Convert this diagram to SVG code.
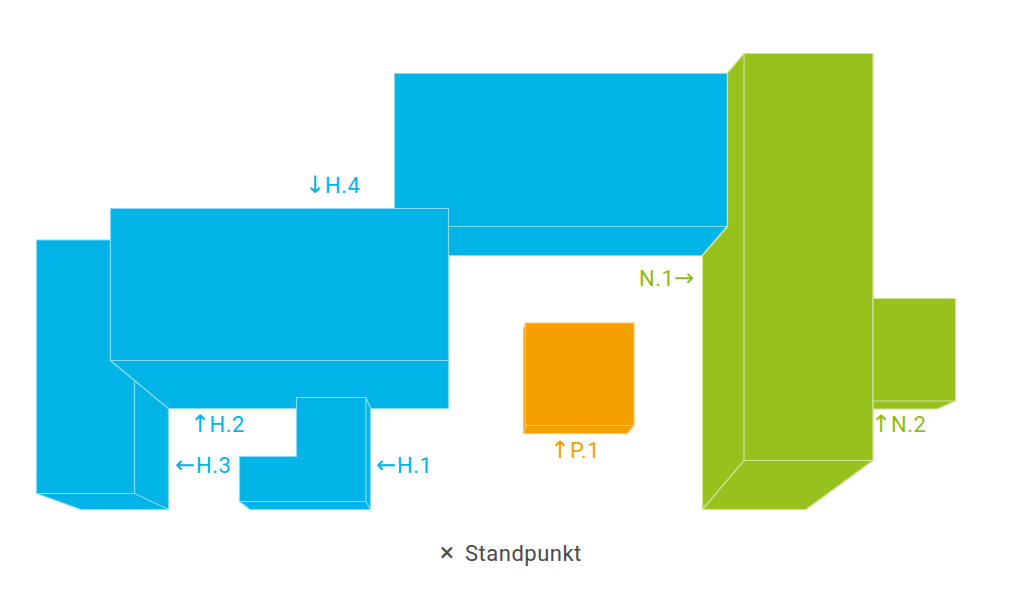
<svg xmlns="http://www.w3.org/2000/svg" width="1020" height="591" viewBox="0 0 1020 591">
<style>
.b{fill:#00b4e8;stroke:#85daf4}
.g{fill:#97c11d;stroke:#d0e496}
.o{fill:#f59f00;stroke:#fbc266}
.s{stroke-width:1.2;stroke-linejoin:round}
.l{stroke-width:1.2;fill:none}
text{font-family:"Roboto","Liberation Sans",sans-serif;font-size:22px;letter-spacing:.5px}
.ar{font-family:"DejaVu Sans",sans-serif;font-size:24px;letter-spacing:0}
.tb{fill:#00b4e8}.tg{fill:#8fbc12}.to{fill:#f59f00}
</style>
<rect width="1020" height="591" fill="#fff"/>
<g id="H3">
<path class="b s" d="M36.500 240H110.500V360.500L168.500 408.500V509.500H81L36.500 493.500Z"/>
<path class="b l" d="M134.500 381V493.500M36.500 493.500H134.500L168.500 509.500"/>
</g>
<g id="H5">
<path class="b s" d="M394.500 73.500H727.500V226L702 255.500H448.500V226H394.500Z"/>
<path class="b l" d="M448.500 226.500H727.500"/>
</g>
<g id="H4">
<path class="b s" d="M110.500 208.500H448.500V408.500H168.500L110.500 360.500Z"/>
<path class="b l" d="M110.500 360.500H448.500"/>
</g>
<g id="H1">
<path class="b s" d="M296.500 397.500H366L370.500 408V509.500H250L239.500 501.500V456.500H296.500Z"/>
<path class="b l" d="M239.500 501.500H366L370.500 509.500M366 397.500V501.500"/>
</g>
<g id="P1">
<path class="o s" d="M525.500 323H634V425.500L627 433.500H523.500V329Z"/>
<path class="o l" d="M525.500 323V425.500H634M525.500 425.500L523.500 433.500"/>
</g>
<g id="N1">
<path class="g s" d="M727.500 73L744 53.500H873V460.500L806 509.500H702.500V255.500L727.500 226.500Z"/>
<path class="g l" d="M744 53.500V460.500H873M744 460.500L702.500 509.500"/>
</g>
<g id="N2">
<path class="g s" d="M873 298.500H955.500V401L937 409H873Z"/>
<path class="g l" d="M873 401H955.500"/>
</g>
<g id="labels">
<text y="193" class="tb"><tspan class="ar" x="305">↓</tspan><tspan x="325">H.4</tspan></text>
<text y="432" class="tb"><tspan class="ar" x="190">↑</tspan><tspan x="209.500">H.2</tspan></text>
<text y="473" class="tb"><tspan class="ar" x="175">←</tspan><tspan x="196">H.3</tspan></text>
<text y="473" class="tb"><tspan class="ar" x="376">←</tspan><tspan x="397">H.1</tspan></text>
<text y="458" class="to"><tspan class="ar" x="550">↑</tspan><tspan x="570">P.1</tspan></text>
<text y="286" class="tg"><tspan x="639">N.1</tspan><tspan class="ar" x="674">→</tspan></text>
<text y="432" class="tg"><tspan class="ar" x="871">↑</tspan><tspan x="891">N.2</tspan></text>
<text y="561" fill="#4a4a4a"><tspan font-size="26" x="440">×</tspan><tspan x="465">Standpunkt</tspan></text>
</g>
</svg>
